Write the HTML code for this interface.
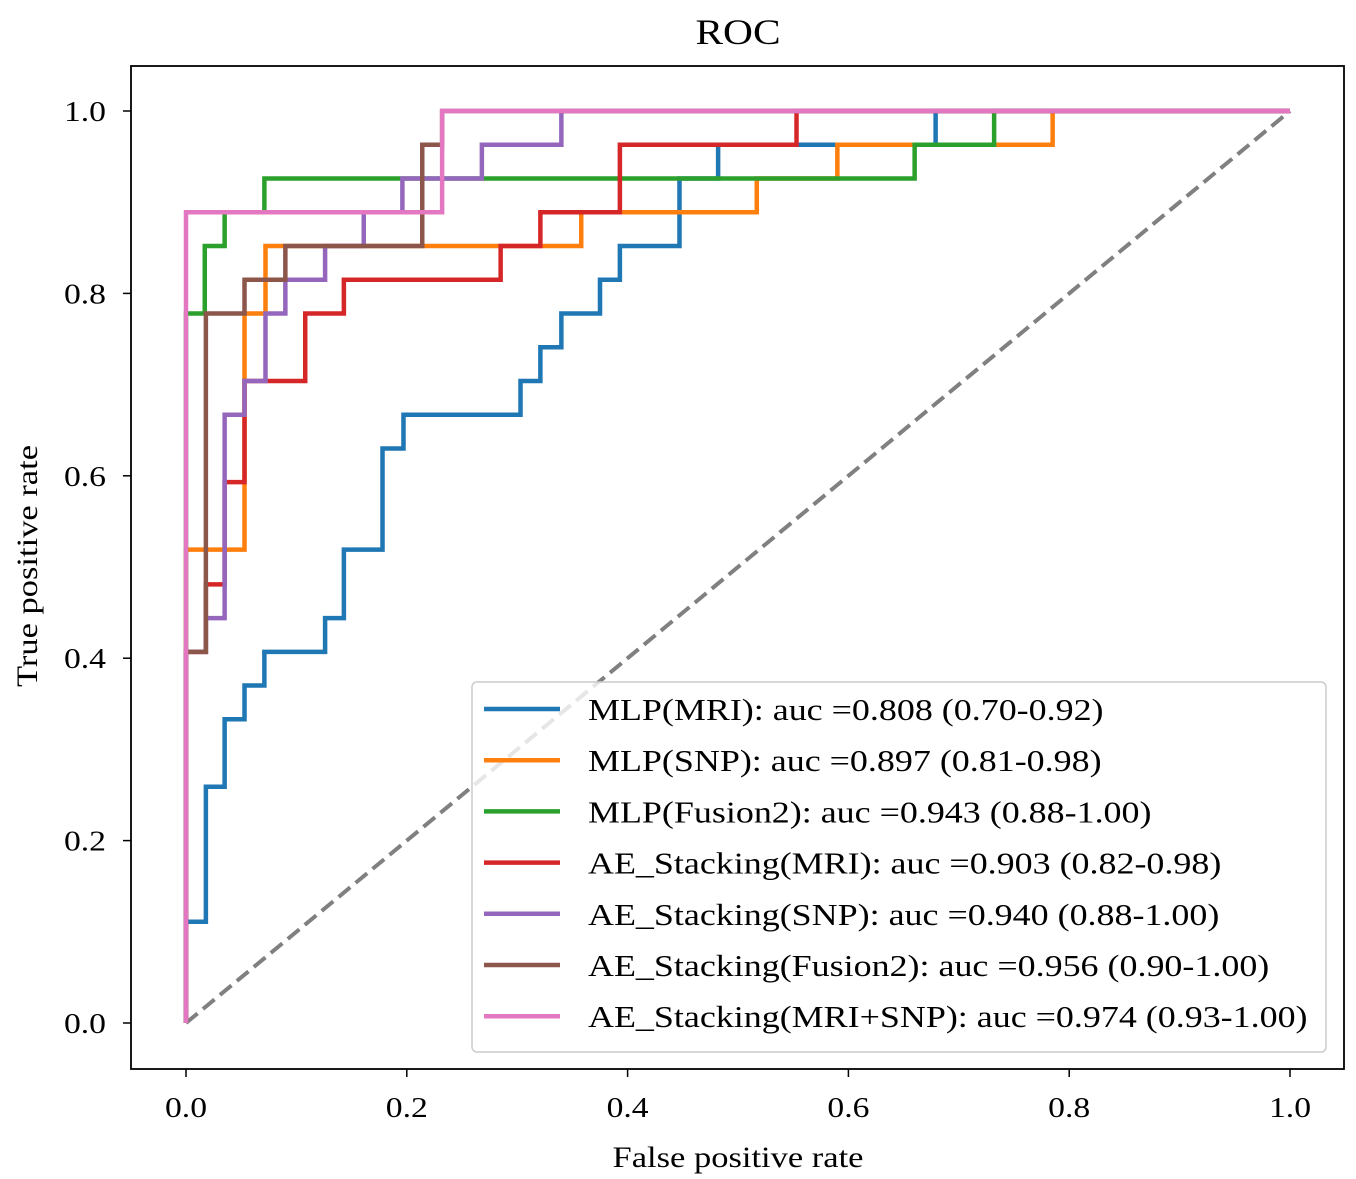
<!DOCTYPE html>
<html><head><meta charset="utf-8">
<style>
body{margin:0;background:#fff;}
svg{display:block;font-family:"Liberation Serif",serif;}
</style></head>
<body>
<svg id="chart" width="1356" height="1179" viewBox="0 0 1356 1179">
<text transform="translate(738,44) scale(1.15,1)" font-size="36" text-anchor="middle">ROC</text>
<rect x="131" y="66" width="1213" height="1003" fill="none" stroke="#000" stroke-width="1.8"/>
<g id="ticks"></g>
<line id="diag" stroke="#808080" stroke-width="4" stroke-dasharray="15,7"/>
<g id="curves"></g>
<g id="legend"></g>
<text transform="translate(738,1167) scale(1.15,1)" font-size="30" text-anchor="middle">False positive rate</text>
<text transform="translate(37,566) rotate(-90) scale(1.15,1)" font-size="30" text-anchor="middle">True positive rate</text>
</svg>
<script>
const tickValues=[0,0.2,0.4,0.6,0.8,1.0];
const tickLabels=["0.0","0.2","0.4","0.6","0.8","1.0"];
const seriesNames=["MLP(MRI): auc =0.808 (0.70-0.92)","MLP(SNP): auc =0.897 (0.81-0.98)","MLP(Fusion2): auc =0.943 (0.88-1.00)","AE_Stacking(MRI): auc =0.903 (0.82-0.98)","AE_Stacking(SNP): auc =0.940 (0.88-1.00)","AE_Stacking(Fusion2): auc =0.956 (0.90-1.00)","AE_Stacking(MRI+SNP): auc =0.974 (0.93-1.00)"];
const seriesColors=["#1f77b4","#ff7f0e","#2ca02c","#d62728","#9467bd","#8c564b","#e377c2"];
const mlpMriFpr=[0,0.018,0.035,0.053,0.071,0.126,0.143,0.178,0.197,0.303,0.321,0.34,0.375,0.393,0.447,0.482,0.679,1];
const mlpMriTpr=[0.111,0.259,0.333,0.370,0.407,0.444,0.519,0.630,0.667,0.704,0.741,0.778,0.815,0.852,0.926,0.963,1,1];
const mlpSnpFpr=[0,0.053,0.072,0.358,0.517,0.59,0.785,1];
const mlpSnpTpr=[0.519,0.778,0.852,0.889,0.926,0.963,1,1];
const mlpFusFpr=[0,0.017,0.035,0.071,0.66,0.732,1];
const mlpFusTpr=[0.778,0.852,0.889,0.926,0.963,1,1];
const aeMriFpr=[0,0.018,0.035,0.053,0.108,0.143,0.285,0.321,0.393,0.553,1];
const aeMriTpr=[0.407,0.481,0.593,0.704,0.778,0.815,0.852,0.889,0.963,1,1];
const aeSnpFpr=[0,0.018,0.035,0.053,0.072,0.09,0.126,0.161,0.196,0.268,0.34,1];
const aeSnpTpr=[0.407,0.444,0.667,0.704,0.778,0.815,0.852,0.889,0.926,0.963,1,1];
const aeFusFpr=[0,0.018,0.053,0.09,0.214,0.232,1];
const aeFusTpr=[0.407,0.778,0.815,0.852,0.963,1,1];
const aeAllFpr=[0,0.232,1];
const aeAllTpr=[0.889,1,1];
const allFpr=[mlpMriFpr,mlpSnpFpr,mlpFusFpr,aeMriFpr,aeSnpFpr,aeFusFpr,aeAllFpr];
const allTpr=[mlpMriTpr,mlpSnpTpr,mlpFusTpr,aeMriTpr,aeSnpTpr,aeFusTpr,aeAllTpr];
const seriesKeys=["mlp-mri","mlp-snp","mlp-fusion2","ae-stacking-mri","ae-stacking-snp","ae-stacking-fusion2","ae-stacking-mri-snp"];

const NS="http://www.w3.org/2000/svg";
const SX=1.16;
const sx=v=>186+v*1104, sy=v=>1023-v*912;
const ticks=document.getElementById('ticks');
tickValues.forEach((v,i)=>{
  let l=document.createElementNS(NS,'line');
  l.setAttribute('x1',sx(v));l.setAttribute('x2',sx(v));l.setAttribute('y1',1069);l.setAttribute('y2',1077);l.setAttribute('stroke','#000');l.setAttribute('stroke-width',1.5);
  
  
  ticks.appendChild(l);
  let t=document.createElementNS(NS,'text');
  t.setAttribute('transform','translate('+sx(v)+',1117) scale('+SX+',1)');t.setAttribute('font-size',29);t.setAttribute('text-anchor','middle');t.textContent=tickLabels[i];
  
  
  ticks.appendChild(t);
  let l2=document.createElementNS(NS,'line');
  l2.setAttribute('x1',123);l2.setAttribute('x2',131);l2.setAttribute('y1',sy(v));l2.setAttribute('y2',sy(v));l2.setAttribute('stroke','#000');l2.setAttribute('stroke-width',1.5);
  
  
  ticks.appendChild(l2);
  let t2=document.createElementNS(NS,'text');
  t2.setAttribute('transform','translate(106,'+(sy(v)+10)+') scale('+SX+',1)');t2.setAttribute('font-size',29);t2.setAttribute('text-anchor','end');t2.textContent=tickLabels[i];
  
  
  ticks.appendChild(t2);
});
const d=document.getElementById('diag');
d.setAttribute('x1',sx(0));d.setAttribute('y1',sy(0));d.setAttribute('x2',sx(1));d.setAttribute('y2',sy(1));
const curves=document.getElementById('curves');
allFpr.forEach((fx,k)=>{
  const ty=allTpr[k];
  let pts=[[sx(0),sy(0)]];
  let prevY=0;
  fx.forEach((x,i)=>{pts.push([sx(x),sy(prevY)]);pts.push([sx(x),sy(ty[i])]);prevY=ty[i];});
  let p=document.createElementNS(NS,'polyline');
  p.setAttribute('points',pts.map(a=>a.join(',')).join(' '));
  p.setAttribute('fill','none');p.setAttribute('stroke',seriesColors[k]);p.setAttribute('stroke-width',4.5);
  
  
  curves.appendChild(p);
});
const lg=document.getElementById('legend');
let box=document.createElementNS(NS,'rect');
box.setAttribute('x',472);box.setAttribute('y',682);box.setAttribute('width',854);box.setAttribute('height',370);box.setAttribute('rx',5);
box.setAttribute('fill','rgba(255,255,255,0.8)');box.setAttribute('stroke','#ccc');box.setAttribute('stroke-width',1.5);


lg.appendChild(box);
seriesNames.forEach((n,i)=>{
  const y=709+i*51.2;
  let l=document.createElementNS(NS,'line');
  l.setAttribute('x1',484);l.setAttribute('x2',560);l.setAttribute('y1',y);l.setAttribute('y2',y);l.setAttribute('stroke',seriesColors[i]);l.setAttribute('stroke-width',4.5);
  
  
  lg.appendChild(l);
  let t=document.createElementNS(NS,'text');
  t.setAttribute('transform','translate(588,'+(y+11)+') scale('+SX+',1)');t.setAttribute('font-size',31);t.textContent=n;
  
  
  lg.appendChild(t);
});
</script>
</body></html>
